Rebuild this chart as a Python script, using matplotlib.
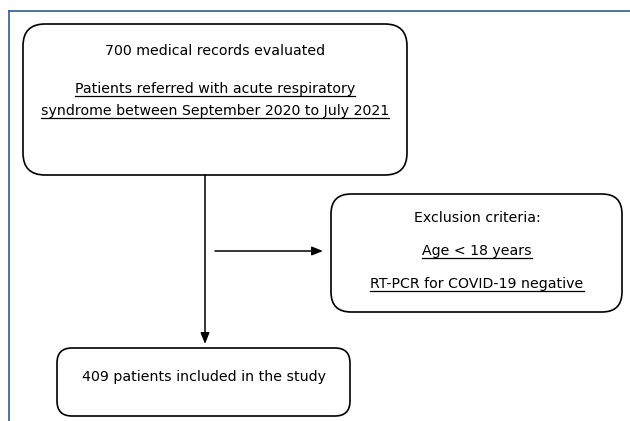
import matplotlib
matplotlib.use("Agg")
import matplotlib.pyplot as plt
from matplotlib.patches import FancyBboxPatch
from matplotlib import font_manager

# ---- content ----
top_title = "700 medical records evaluated"
top_lines = ["Patients referred with acute respiratory",
             "syndrome between September 2020 to July 2021"]
excl_title = "Exclusion criteria:"
excl_lines = ["Age < 18 years", "RT-PCR for COVID-19 negative"]
bottom_text = "409 patients included in the study"

names = {f.name for f in font_manager.fontManager.ttflist}
fam = "Liberation Sans Narrow" if "Liberation Sans Narrow" in names else "DejaVu Sans"
plt.rcParams['font.family'] = [fam, 'DejaVu Sans']

W, H = 630, 421
fig = plt.figure(figsize=(6.30, 4.21), dpi=100)
ax = fig.add_axes([0, 0, 1, 1])
ax.set_xlim(0, W)
ax.set_ylim(H, 0)
ax.axis('off')

# blue frame
frame_c = '#2e5c8a'
ax.plot([9, W], [11, 11], color=frame_c, lw=1.2)
ax.plot([9, 9], [11, H], color=frame_c, lw=1.2)

def rbox(x0, y0, x1, y1, r=20):
    p = FancyBboxPatch((x0 + r, y0 + r), (x1 - x0) - 2 * r, (y1 - y0) - 2 * r,
                       boxstyle=f"round,pad={r}", fc='white', ec='black', lw=1.2)
    ax.add_patch(p)

rbox(23, 24, 407, 175, r=22)
rbox(331, 194, 622, 312, r=20)
rbox(57, 348, 350, 416, r=15)

fs = 10.2
texts_ul = []
ax.text(215, 51, top_title, ha='center', va='center', fontsize=fs)
texts_ul.append(ax.text(215, 89, top_lines[0], ha='center', va='center', fontsize=fs))
texts_ul.append(ax.text(215, 111, top_lines[1], ha='center', va='center', fontsize=fs))
ax.text(477, 218, excl_title, ha='center', va='center', fontsize=fs)
texts_ul.append(ax.text(477, 251, excl_lines[0], ha='center', va='center', fontsize=fs))
texts_ul.append(ax.text(477, 284, excl_lines[1], ha='center', va='center', fontsize=fs))
ax.text(204, 377, bottom_text, ha='center', va='center', fontsize=fs)

# arrows
astyle = dict(arrowstyle='-|>,head_length=0.55,head_width=0.22', color='black',
              lw=1.1, mutation_scale=12, shrinkA=0, shrinkB=0)
ax.annotate('', xy=(205, 344), xytext=(205, 175), arrowprops=astyle)
ax.annotate('', xy=(323, 251), xytext=(215, 251), arrowprops=astyle)

# underlines
fig.canvas.draw()
r = fig.canvas.get_renderer()
inv = ax.transData.inverted()
for t in texts_ul:
    bb = t.get_window_extent(r)
    (xa, ya), (xb, yb) = inv.transform([(bb.x0, bb.y0), (bb.x1, bb.y1)])
    ax.plot([xa, xb], [ya - 0.5, ya - 0.5], color='black', lw=0.9)

fig.savefig('out.png', dpi=100)
